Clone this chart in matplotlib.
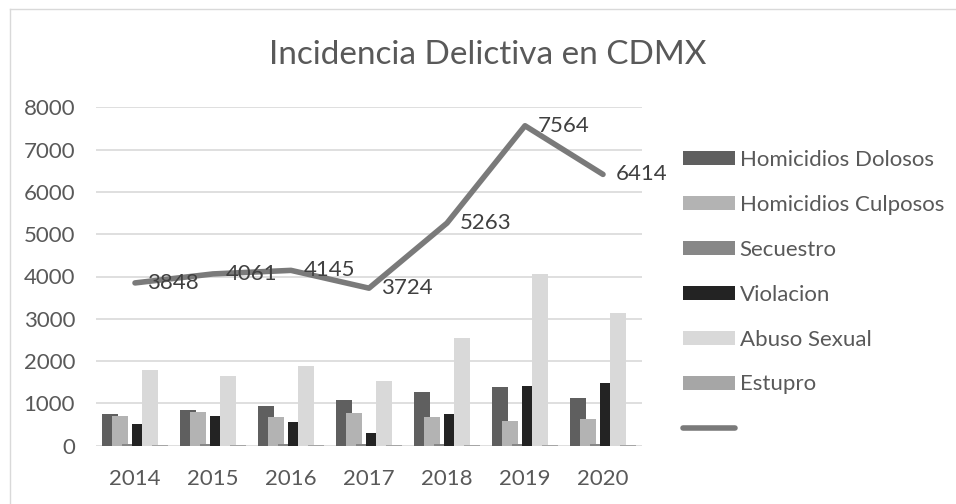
import matplotlib
matplotlib.use("Agg")
import matplotlib.pyplot as plt
from matplotlib.patches import Patch
from matplotlib.lines import Line2D
import numpy as np

years = ["2014", "2015", "2016", "2017", "2018", "2019", "2020"]
homicidios_dolosos = [745, 850, 944, 1080, 1262, 1397, 1135]
homicidios_culposos = [695, 786, 683, 762, 667, 595, 635]
secuestro = [40, 40, 40, 30, 30, 48, 30]
violacion = [516, 707, 563, 293, 755, 1412, 1476]
abuso_sexual = [1790, 1650, 1880, 1524, 2540, 4060, 3130]
estupro = [12, 12, 15, 12, 12, 25, 15]
total = [3848, 4061, 4145, 3724, 5263, 7564, 6414]

series_names = ["Homicidios Dolosos", "Homicidios Culposos", "Secuestro",
                "Violacion", "Abuso Sexual", "Estupro"]
series_vals = [homicidios_dolosos, homicidios_culposos, secuestro,
               violacion, abuso_sexual, estupro]
colors = ["#5f5f5f", "#b3b3b3", "#878787", "#232323", "#d9d9d9", "#a6a6a6"]
line_color = "#7a7a7a"

plt.rcParams['font.family'] = ['Lato', 'DejaVu Sans']
FS = 16

fig = plt.figure(figsize=(9.56, 5.04), dpi=100)
ax = fig.add_axes([96/956, 1-445.7/504, (642-96)/956, (445.7-107.3)/504])

x = np.arange(len(years))
step = 10/78
width = 16/78
for i, (name, vals, c) in enumerate(zip(series_names, series_vals, colors)):
    ax.bar(x + (i-2.5)*step, vals, width=width, color=c, zorder=2+i*0.01,
           edgecolor='none')

ax.plot(x, total, color=line_color, lw=4.0, solid_capstyle='round',
        solid_joinstyle='round', zorder=5)
for xi, v in zip(x, total):
    ax.annotate(str(v), (xi, v), xytext=(9, 0), textcoords='offset points',
                ha='left', va='center', fontsize=FS, color='#404040', zorder=6)

ax.set_xlim(-0.5, len(years)-0.5)
ax.set_ylim(0, 8000)
ax.set_yticks(np.arange(0, 8001, 1000))
ax.set_xticks(x)
ax.set_xticklabels(years)
ax.grid(axis='y', color='#d9d9d9', lw=1.2, zorder=0)
ax.set_axisbelow(True)
for s in ax.spines.values():
    s.set_visible(False)
ax.tick_params(axis='both', length=0, labelsize=FS, labelcolor='#595959')
ax.tick_params(axis='x', pad=17)
ax.tick_params(axis='y', pad=15)

handles = [Patch(facecolor=c, edgecolor='none') for c in colors]
handles.append(Line2D([0], [0], color=line_color, lw=4.0, solid_capstyle='round'))
labels = series_names + [""]
leg = ax.legend(handles, labels, loc='upper left',
                bbox_to_anchor=(683/956, 1-150/504), bbox_transform=fig.transFigure,
                frameon=False, fontsize=FS, handlelength=2.35, handleheight=0.58,
                handletextpad=0.2, labelspacing=1.12, borderpad=0, borderaxespad=0)
for t in leg.get_texts():
    t.set_color('#595959')

fig.text(488/956, 1-55/504, "Incidencia Delictiva en CDMX", ha='center',
         va='center', fontsize=24, color='#595959')

# chart area border (top and left visible)
fig.add_artist(Line2D([9.5/956, 9.5/956], [0, 1-8.5/504], transform=fig.transFigure,
                      color='#d9d9d9', lw=1.0))
fig.add_artist(Line2D([9.5/956, 1], [1-8.5/504, 1-8.5/504], transform=fig.transFigure,
                      color='#d9d9d9', lw=1.0))

fig.savefig("out.png", dpi=100, facecolor='white')
